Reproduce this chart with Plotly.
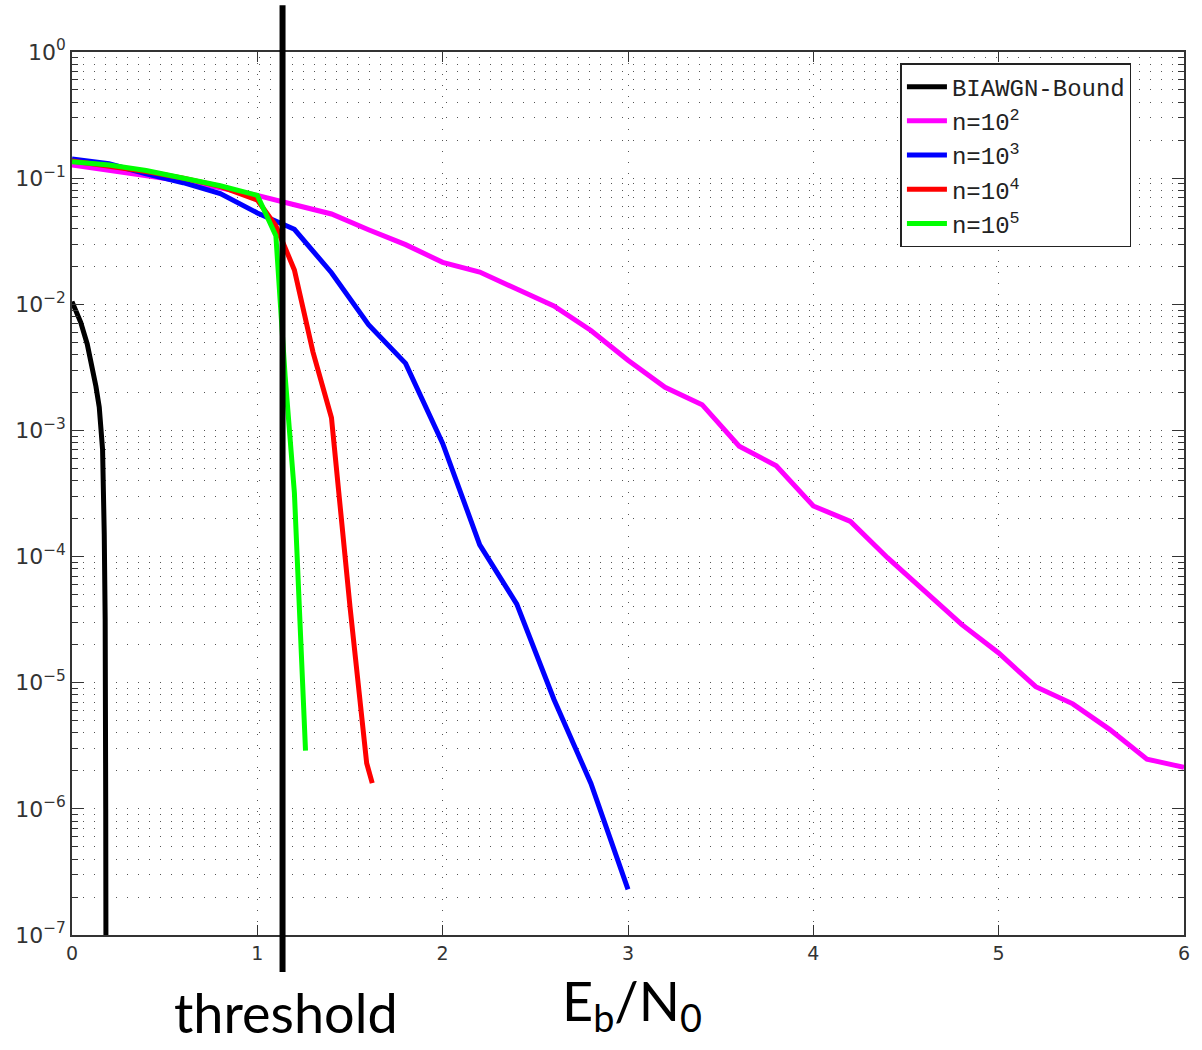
import plotly.graph_objects as go

# Eb/N0 (dB) sample points and bit error rates for each curve
bound_x = [0.0, 0.047, 0.082, 0.106, 0.129, 0.147, 0.165, 0.174, 0.179, 0.182, 0.183]
bound_y = [1.05e-2, 7.2e-3, 4.85e-3, 3.3e-3, 2.24e-3, 1.53e-3, 7.05e-4, 1.5e-4, 3.2e-5, 1.0e-6, 1.0e-7]

n2_x = [0.0, 0.2, 0.4, 0.6, 0.8, 1.0, 1.2, 1.4, 1.6, 1.8, 2.0, 2.2, 2.4, 2.6, 2.8, 3.0,
        3.2, 3.4, 3.6, 3.8, 4.0, 4.2, 4.4, 4.6, 4.8, 5.0, 5.2, 5.4, 5.6, 5.8, 6.0]
n2_y = [0.127, 0.116, 0.105, 0.095, 0.084, 0.073, 0.0615, 0.052, 0.039, 0.0297, 0.0215,
        0.018, 0.0132, 0.0097, 0.0062, 0.0036, 0.0022, 0.0016, 7.5e-4, 5.25e-4, 2.52e-4,
        1.9e-4, 9.8e-5, 5.3e-5, 2.9e-5, 1.72e-5, 9.3e-6, 6.8e-6, 4.25e-6, 2.48e-6, 2.13e-6]

n3_x = [0.0, 0.2, 0.4, 0.6, 0.8, 1.0, 1.2, 1.4, 1.6, 1.8, 2.0, 2.2, 2.4, 2.6, 2.8, 3.0]
n3_y = [0.142, 0.130, 0.108, 0.092, 0.0755, 0.053, 0.0393, 0.0178, 6.9e-3, 3.4e-3,
        7.9e-4, 1.24e-4, 4.2e-5, 7.4e-6, 1.59e-6, 2.3e-7]

n4_x = [0.0, 0.2, 0.4, 0.6, 0.8, 1.0, 1.1, 1.2, 1.3, 1.4, 1.5, 1.59, 1.62]
n4_y = [0.137, 0.125, 0.113, 0.100, 0.086, 0.067, 0.042, 0.0187, 4.2e-3, 1.26e-3,
        4.0e-5, 2.3e-6, 1.6e-6]

n5_x = [0.0, 0.2, 0.4, 0.6, 0.8, 1.0, 1.1, 1.15, 1.2, 1.26]
n5_y = [0.135, 0.127, 0.115, 0.101, 0.087, 0.073, 0.035, 2.7e-3, 3.2e-4, 2.9e-6]

THRESHOLD = 1.136

series = [
    ("BIAWGN-Bound", bound_x, bound_y, "#000000"),
    ("n=10<sup>2</sup>", n2_x, n2_y, "#ff00ff"),
    ("n=10<sup>3</sup>", n3_x, n3_y, "#0000ff"),
    ("n=10<sup>4</sup>", n4_x, n4_y, "#ff0000"),
    ("n=10<sup>5</sup>", n5_x, n5_y, "#00ff00"),
]

fig = go.Figure()
for name, xs, ys, color in series:
    fig.add_trace(go.Scatter(x=xs, y=ys, mode="lines", name=name,
                             line=dict(color=color, width=5)))

decades = list(range(-7, 1))
major_vals = [10.0 ** d for d in decades]
major_text = ["10<sup>%s</sup>" % (str(d).replace("-", "\u2212")) for d in decades]
minor_vals = [m * 10.0 ** d for d in range(-7, 0) for m in range(2, 10)]

axis_color = "#333333"
grid_color = "#555555"
grid_dash = "1px,10px"

fig.update_xaxes(
    range=[0, 6], tickvals=[0, 1, 2, 3, 4, 5, 6],
    showline=True, linecolor=axis_color, linewidth=1.5, mirror="ticks",
    ticks="inside", ticklen=10, tickcolor=axis_color,
    showgrid=True, gridcolor=grid_color, gridwidth=1, griddash=grid_dash,
    zeroline=False,
    tickfont=dict(family="DejaVu Sans", size=19, color="#333333"),
)
fig.update_yaxes(
    type="log", range=[-7, 0], tickmode="array", tickvals=major_vals, ticktext=major_text,
    showline=True, linecolor=axis_color, linewidth=1.5, mirror="ticks",
    ticks="inside", ticklen=12, tickcolor=axis_color,
    showgrid=True, gridcolor=grid_color, gridwidth=1, griddash=grid_dash,
    minor=dict(tickmode="array", tickvals=minor_vals, ticks="inside", ticklen=6,
               tickcolor=axis_color, showgrid=True, gridcolor=grid_color,
               gridwidth=1, griddash=grid_dash),
    zeroline=False,
    tickfont=dict(family="DejaVu Sans", size=22, color="#333333"),
)

# threshold marker, running past the plot frame
fig.add_shape(type="line", xref="x", yref="paper", x0=THRESHOLD, x1=THRESHOLD,
              y0=-0.042, y1=1.053, line=dict(color="#000000", width=6), layer="above")

fig.add_annotation(text="threshold", xref="x", yref="paper", x=1.157, y=-0.088,
                   yanchor="middle", showarrow=False,
                   font=dict(family="Lato", size=54, color="#000000"))
fig.add_annotation(text="E<sub>b</sub>/N<sub>0</sub>", xref="x", yref="paper", x=3.02, y=-0.078,
                   yanchor="middle", showarrow=False,
                   font=dict(family="Lato", size=54, color="#000000"))

fig.update_layout(
    width=1202, height=1050,
    margin=dict(l=72, r=15, t=52, b=115),
    paper_bgcolor="#ffffff", plot_bgcolor="#ffffff",
    showlegend=True,
    legend=dict(x=0.745, y=0.9875, xanchor="left", yanchor="top",
                bgcolor="#ffffff", bordercolor="#222222", borderwidth=1.5,
                font=dict(family="Liberation Mono, Courier New, monospace", size=24,
                          color="#222222"),
                tracegroupgap=0, itemwidth=40),
)

fig.write_html("out.html")
